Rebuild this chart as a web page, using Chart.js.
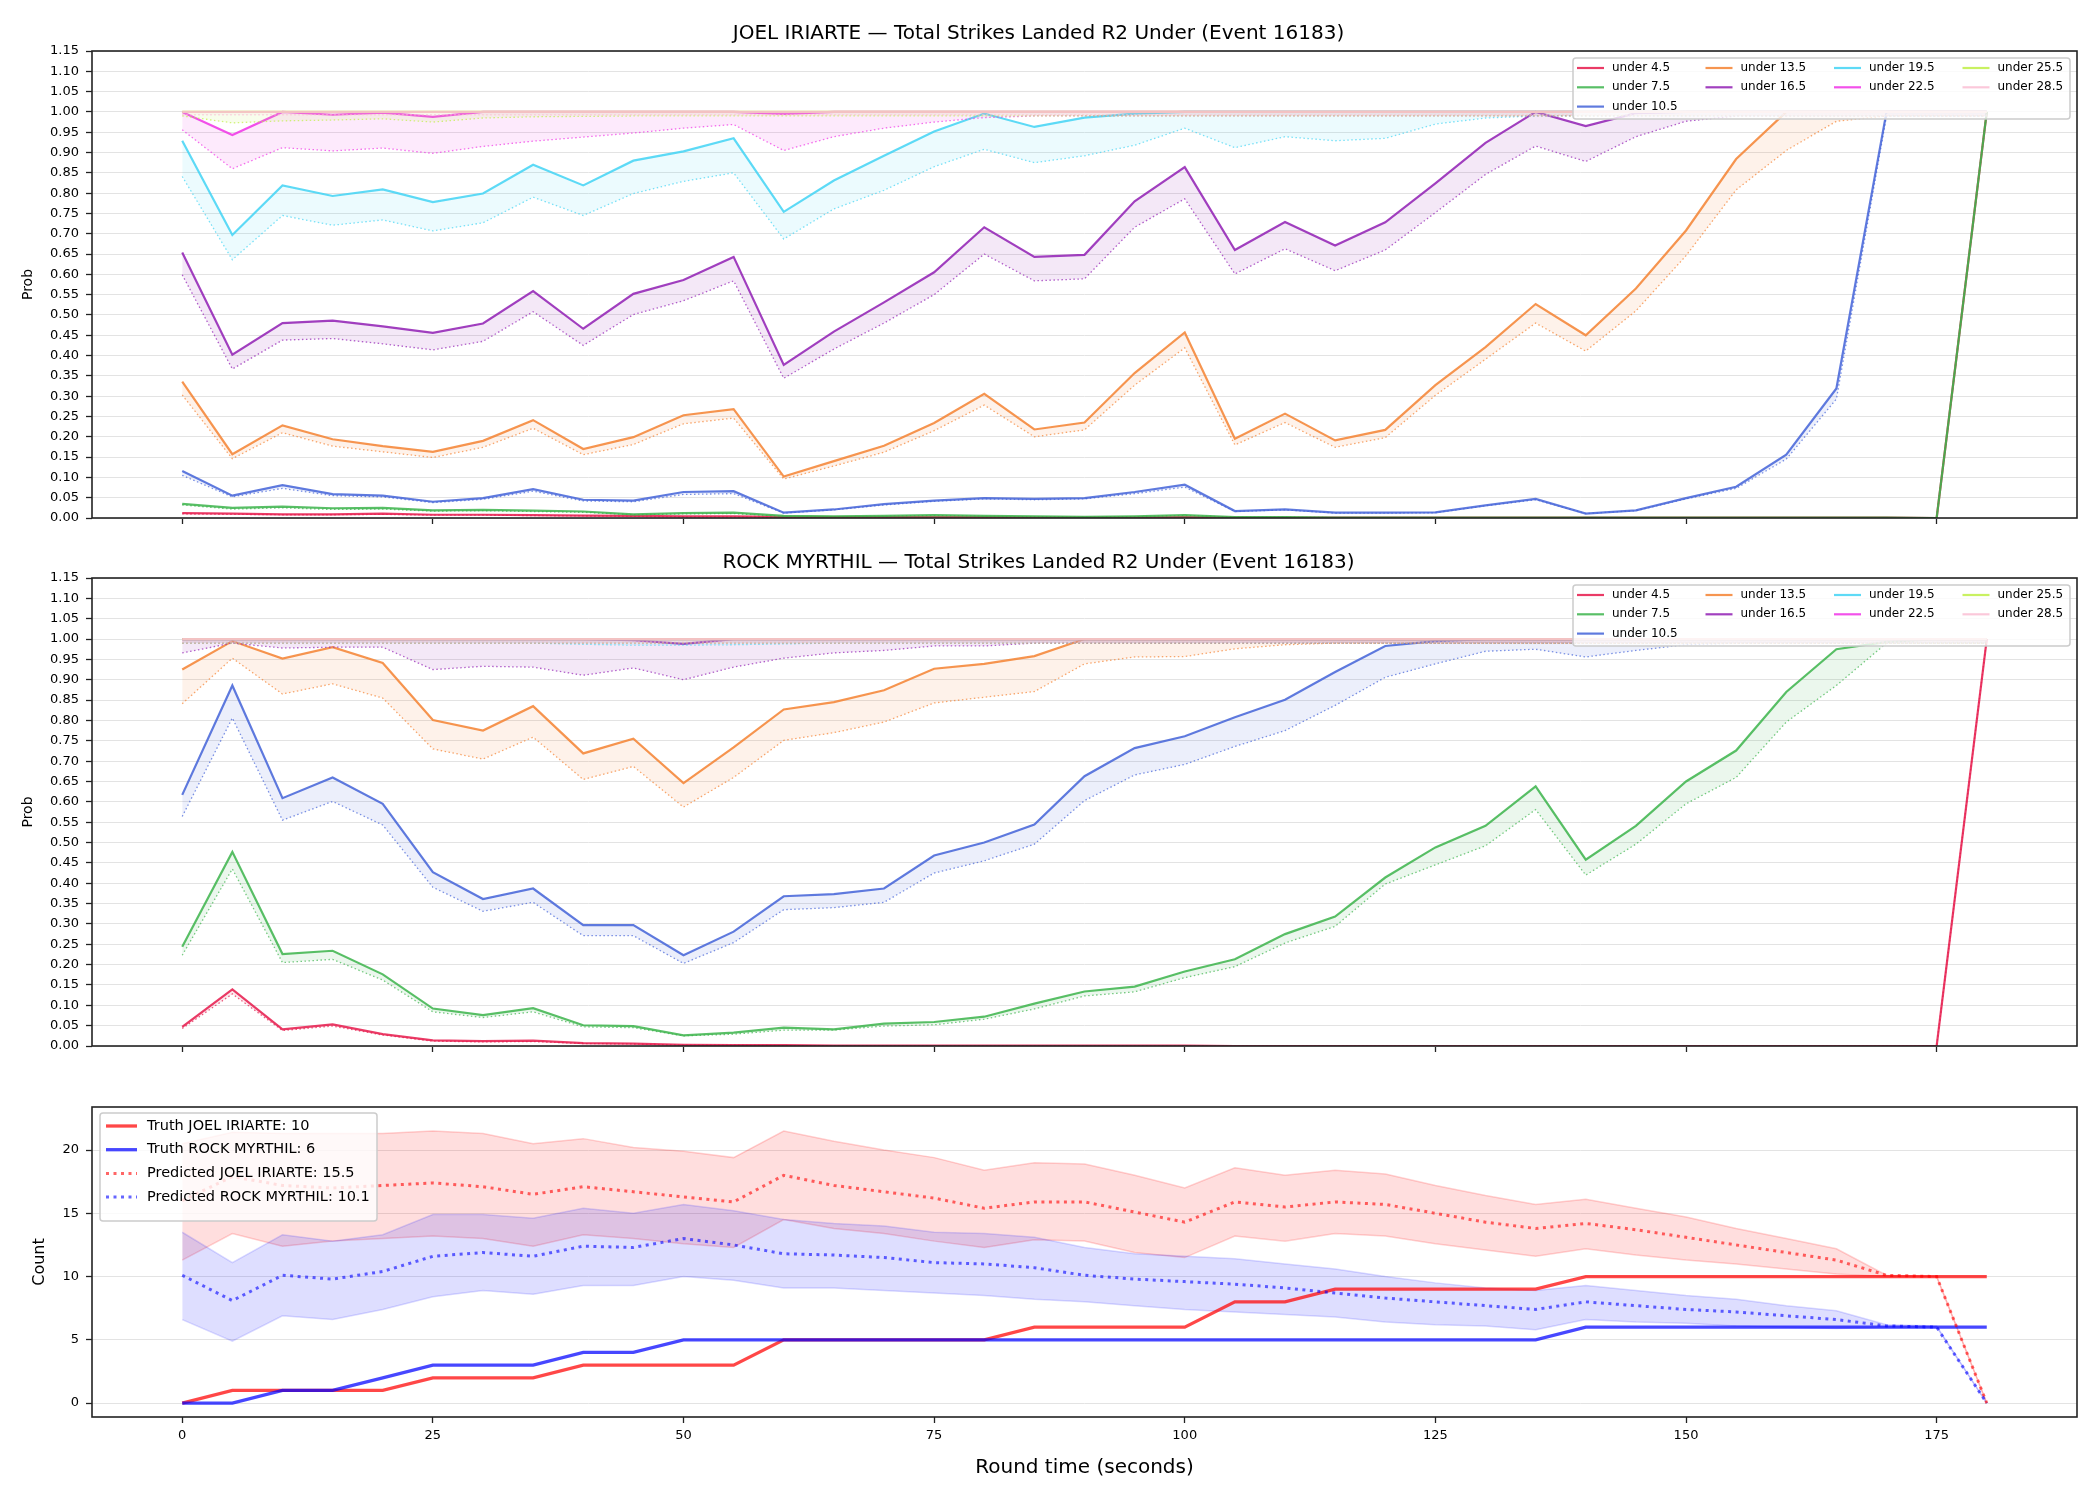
<!DOCTYPE html>
<html>
<head>
<meta charset="utf-8">
<script src="https://cdn.jsdelivr.net/npm/chart.js@4.4.1/dist/chart.umd.min.js"></script>
<style>
  body { margin: 0; background: #fff; width: 2100px; height: 1500px; overflow: hidden; }
  canvas { position: absolute; left: 0; }
</style>
</head>
<body>
<canvas id="joelChart" style="top:0px" width="2100" height="545"></canvas>
<canvas id="rockChart" style="top:545px" width="2100" height="528"></canvas>
<canvas id="countChart" style="top:1073px" width="2100" height="427"></canvas>
<script>
// round time (seconds)
const times = [0,5,10,15,20,25,30,35,40,45,50,
  55,60,65,70,75,80,85,90,95,100,105,110,115,120,
  125,130,135,140,145,150,155,160,165,170,175,180];

const thresholds = ["4.5","7.5","10.5","13.5","16.5","19.5","22.5","25.5","28.5"];
const lineColors = ["#e6194b","#3cb44b","#4363d8","#f58231","#911eb4","#42d4f4","#f032e6","#bfef45","#fabed4"];

const xTicks = [0,25,50,75,100,125,150,175];
const probTicks = [0,0.05,0.1,0.15,0.2,0.25,0.3,0.35,0.4,0.45,0.5,0.55,0.6,0.65,0.7,0.75,0.8,0.85,0.9,0.95,1,1.05,1.1,1.15];
const countTicks = [0,5,10,15,20];

// JOEL IRIARTE: solid = market, dotted = model
const joel45 = [0.012,0.011,0.009,0.009,0.011,0.008,0.008,0.007,0.006,0.005,0.004,
  0.004,0.003,0.002,0.002,0.002,0.002,0.001,0.001,0.001,0.002,0.001,0.001,0.001,0.001,
  0.001,0.001,0.001,0.001,0.001,0.001,0.001,0.001,0.001,0.001,0,1];
const joel45Pred = [0.010,0.009,0.008,0.008,0.009,0.007,0.007,0.006,0.005,0.004,0.003,
  0.003,0.002,0.002,0.002,0.001,0.001,0.001,0.001,0.001,0.001,0.001,0.001,0.001,0.001,
  0.001,0.001,0.001,0.001,0.001,0.001,0.001,0.001,0.001,0.001,0,1];
const joel75 = [0.035,0.025,0.028,0.024,0.025,0.019,0.020,0.018,0.016,0.009,0.012,
  0.013,0.005,0.004,0.005,0.007,0.005,0.004,0.003,0.004,0.007,0.002,0.002,0.001,0.001,
  0.001,0.001,0.001,0.001,0.001,0.001,0.001,0.001,0.001,0.001,0,1];
const joel75Pred = [0.032,0.022,0.025,0.021,0.022,0.017,0.018,0.016,0.014,0.008,0.010,
  0.011,0.004,0.003,0.004,0.006,0.004,0.003,0.002,0.003,0.006,0.002,0.002,0.001,0.001,
  0.001,0.001,0.001,0.001,0.001,0.001,0.001,0.001,0.001,0.001,0,1];
const joel105 = [0.116,0.055,0.081,0.059,0.055,0.040,0.049,0.071,0.045,0.043,0.064,
  0.066,0.013,0.021,0.034,0.043,0.049,0.047,0.049,0.064,0.082,0.017,0.021,0.013,0.013,
  0.014,0.031,0.047,0.011,0.019,0.049,0.077,0.156,0.319,1,1,1];
const joel105Pred = [0.105,0.052,0.073,0.055,0.052,0.038,0.046,0.066,0.042,0.040,0.058,
  0.060,0.012,0.020,0.032,0.041,0.047,0.045,0.047,0.060,0.076,0.016,0.020,0.012,0.012,
  0.013,0.030,0.045,0.011,0.018,0.047,0.073,0.145,0.293,0.990,0.990,0.990];
const joel135 = [0.336,0.157,0.228,0.194,0.177,0.163,0.190,0.241,0.170,0.199,0.253,
  0.268,0.102,0.140,0.178,0.234,0.306,0.218,0.235,0.357,0.457,0.195,0.257,0.191,0.217,
  0.327,0.421,0.527,0.450,0.565,0.708,0.884,1,1,1,1,1];
const joel135Pred = [0.303,0.146,0.210,0.177,0.163,0.149,0.174,0.221,0.156,0.181,0.232,
  0.246,0.096,0.128,0.162,0.215,0.278,0.200,0.217,0.327,0.419,0.180,0.235,0.174,0.198,
  0.302,0.391,0.480,0.411,0.510,0.646,0.808,0.905,0.977,0.990,0.990,0.990];
const joel165 = [0.654,0.402,0.480,0.486,0.472,0.456,0.479,0.559,0.466,0.552,0.586,
  0.643,0.377,0.459,0.531,0.605,0.716,0.643,0.648,0.780,0.864,0.660,0.729,0.671,0.728,
  0.824,0.924,1,0.965,0.997,1,1,1,1,1,1,1];
const joel165Pred = [0.599,0.367,0.438,0.442,0.429,0.414,0.435,0.508,0.425,0.501,0.535,
  0.584,0.344,0.416,0.480,0.550,0.650,0.584,0.589,0.716,0.786,0.601,0.663,0.609,0.660,
  0.752,0.846,0.916,0.878,0.939,0.977,0.990,0.990,0.990,0.990,0.990,0.990];
const joel195 = [0.929,0.697,0.819,0.793,0.809,0.778,0.799,0.870,0.819,0.880,0.903,
  0.935,0.754,0.831,0.892,0.952,0.996,0.963,0.986,0.996,1,1,1,1,1,
  1,1,1,1,1,1,1,1,1,1,1,1];
const joel195Pred = [0.841,0.636,0.745,0.721,0.734,0.707,0.727,0.790,0.745,0.799,0.829,
  0.850,0.687,0.761,0.807,0.865,0.908,0.875,0.892,0.918,0.960,0.912,0.939,0.929,0.935,
  0.970,0.985,0.990,0.990,0.990,0.990,0.990,0.990,0.990,0.990,0.990,0.990];
const joel225 = [1,0.943,1,0.993,0.998,0.988,1,1,1,1,1,
  1,0.995,1,1,1,1,1,1,1,1,1,1,1,1,
  1,1,1,1,1,1,1,1,1,1,1,1];
const joel225Pred = [0.956,0.860,0.912,0.904,0.911,0.898,0.915,0.928,0.938,0.948,0.960,
  0.969,0.905,0.939,0.960,0.975,0.986,0.990,0.990,0.990,0.990,0.990,0.990,0.990,0.990,
  0.990,0.990,0.990,0.990,0.990,0.990,0.990,0.990,0.990,0.990,0.990,0.990];
const joel255 = [1,1,1,1,1,1,1,1,1,1,1,
  1,1,1,1,1,1,1,1,1,1,1,1,1,1,
  1,1,1,1,1,1,1,1,1,1,1,1];
const joel255Pred = [0.990,0.973,0.978,0.980,0.983,0.975,0.985,0.988,0.989,0.990,0.990,
  0.990,0.990,0.990,0.990,0.990,0.990,0.990,0.990,0.990,0.990,0.990,0.990,0.990,0.990,
  0.990,0.990,0.990,0.990,0.990,0.990,0.990,0.990,0.990,0.990,0.990,0.990];
const joel285 = [1,1,1,1,1,1,1,1,1,1,1,
  1,1,1,1,1,1,1,1,1,1,1,1,1,1,
  1,1,1,1,1,1,1,1,1,1,1,1];
const joel285Pred = [0.993,0.993,0.993,0.993,0.993,0.993,0.993,0.993,0.993,0.993,0.993,
  0.993,0.993,0.993,0.993,0.993,0.993,0.993,0.993,0.993,0.993,0.993,0.993,0.993,0.993,
  0.993,0.993,0.993,0.993,0.993,0.993,0.993,0.993,0.993,0.993,0.993,0.993];

// ROCK MYRTHIL
const rock45 = [0.047,0.139,0.041,0.053,0.029,0.014,0.012,0.013,0.007,0.006,0.003,
  0.002,0.002,0.001,0.001,0.001,0.001,0.001,0.001,0.001,0.001,0,0,0,0,
  0,0,0,0,0,0,0,0,0,0,0,1];
const rock45Pred = [0.043,0.128,0.038,0.049,0.027,0.012,0.010,0.011,0.006,0.005,0.002,
  0.002,0.001,0.001,0.001,0.001,0.001,0.001,0.001,0.001,0.001,0,0,0,0,
  0,0,0,0,0,0,0,0,0,0,0,1];
const rock75 = [0.244,0.477,0.226,0.234,0.176,0.092,0.076,0.093,0.051,0.049,0.026,
  0.033,0.045,0.041,0.055,0.059,0.072,0.104,0.134,0.146,0.183,0.213,0.275,0.318,0.414,
  0.488,0.541,0.638,0.458,0.541,0.650,0.726,0.870,0.975,0.993,1,1];
const rock75Pred = [0.223,0.435,0.205,0.213,0.162,0.084,0.070,0.084,0.047,0.045,0.025,
  0.029,0.039,0.039,0.049,0.052,0.066,0.091,0.123,0.133,0.168,0.195,0.253,0.294,0.398,
  0.445,0.492,0.581,0.420,0.496,0.595,0.660,0.796,0.886,0.990,0.990,0.990];
const rock105 = [0.617,0.886,0.609,0.660,0.595,0.427,0.361,0.387,0.297,0.297,0.223,
  0.281,0.368,0.373,0.387,0.468,0.500,0.544,0.663,0.732,0.761,0.808,0.851,0.919,0.983,
  0.995,1,1,1,1,1,1,1,1,1,1,1];
const rock105Pred = [0.564,0.806,0.555,0.601,0.543,0.390,0.331,0.353,0.271,0.271,0.203,
  0.254,0.335,0.340,0.353,0.425,0.455,0.496,0.603,0.666,0.692,0.736,0.775,0.837,0.906,
  0.939,0.970,0.975,0.956,0.972,0.986,0.990,0.990,0.990,0.990,0.990,0.990];
const rock135 = [0.925,0.995,0.952,0.980,0.941,0.801,0.775,0.835,0.719,0.755,0.646,
  0.734,0.827,0.845,0.874,0.927,0.939,0.958,1,1,1,1,1,1,1,
  1,1,1,1,1,1,1,1,1,1,1,1];
const rock135Pred = [0.841,0.953,0.865,0.890,0.855,0.730,0.705,0.759,0.655,0.687,0.587,
  0.660,0.751,0.770,0.796,0.843,0.857,0.871,0.939,0.956,0.957,0.976,0.986,0.990,0.990,
  0.990,0.990,0.990,0.990,0.990,0.990,0.990,0.990,0.990,0.990,0.990,0.990];
const rock165 = [1,1,1,1,1,1,1,1,1,0.997,0.988,
  1,1,1,1,1,1,1,1,1,1,1,1,1,1,
  1,1,1,1,1,1,1,1,1,1,1,1];
const rock165Pred = [0.966,0.990,0.978,0.980,0.980,0.925,0.933,0.931,0.911,0.929,0.900,
  0.931,0.953,0.966,0.972,0.983,0.983,0.990,0.990,0.990,0.990,0.990,0.990,0.990,0.990,
  0.990,0.990,0.990,0.990,0.990,0.990,0.990,0.990,0.990,0.990,0.990,0.990];
const rock195 = [1,1,1,1,1,1,1,1,1,1,1,
  1,1,1,1,1,1,1,1,1,1,1,1,1,1,
  1,1,1,1,1,1,1,1,1,1,1,1];
const rock195Pred = [0.990,0.990,0.990,0.990,0.990,0.990,0.990,0.990,0.987,0.985,0.985,
  0.986,0.988,0.990,0.990,0.990,0.990,0.990,0.990,0.990,0.990,0.990,0.990,0.990,0.990,
  0.990,0.990,0.990,0.990,0.990,0.990,0.990,0.990,0.990,0.990,0.990,0.990];
const rock225 = [1,1,1,1,1,1,1,1,1,1,1,
  1,1,1,1,1,1,1,1,1,1,1,1,1,1,
  1,1,1,1,1,1,1,1,1,1,1,1];
const rock225Pred = [0.990,0.990,0.990,0.990,0.990,0.990,0.990,0.990,0.990,0.990,0.990,
  0.990,0.990,0.990,0.990,0.990,0.990,0.990,0.990,0.990,0.990,0.990,0.990,0.990,0.990,
  0.990,0.990,0.990,0.990,0.990,0.990,0.990,0.990,0.990,0.990,0.990,0.990];
const rock255 = [1,1,1,1,1,1,1,1,1,1,1,
  1,1,1,1,1,1,1,1,1,1,1,1,1,1,
  1,1,1,1,1,1,1,1,1,1,1,1];
const rock255Pred = [0.990,0.990,0.990,0.990,0.990,0.990,0.990,0.990,0.990,0.990,0.990,
  0.990,0.990,0.990,0.990,0.990,0.990,0.990,0.990,0.990,0.990,0.990,0.990,0.990,0.990,
  0.990,0.990,0.990,0.990,0.990,0.990,0.990,0.990,0.990,0.990,0.990,0.990];
const rock285 = [1,1,1,1,1,1,1,1,1,1,1,
  1,1,1,1,1,1,1,1,1,1,1,1,1,1,
  1,1,1,1,1,1,1,1,1,1,1,1];
const rock285Pred = [0.993,0.993,0.993,0.993,0.993,0.993,0.993,0.993,0.993,0.993,0.993,
  0.993,0.993,0.993,0.993,0.993,0.993,0.993,0.993,0.993,0.993,0.993,0.993,0.993,0.993,
  0.993,0.993,0.993,0.993,0.993,0.993,0.993,0.993,0.993,0.993,0.993,0.993];

// counts
const truthJoel = [0,1,1,1,1,2,2,2,3,3,3,
  3,5,5,5,5,5,6,6,6,6,8,8,9,9,
  9,9,9,10,10,10,10,10,10,10,10,10];
const truthRock = [0,0,1,1,2,3,3,3,4,4,5,
  5,5,5,5,5,5,5,5,5,5,5,5,5,5,
  5,5,5,6,6,6,6,6,6,6,6,6];
const predJoel = [16.0,17.9,17.2,17.0,17.2,17.4,17.1,16.5,17.1,16.7,16.3,
  15.9,18.0,17.2,16.7,16.2,15.4,15.9,15.9,15.1,14.3,15.9,15.5,15.9,15.7,
  15.0,14.3,13.8,14.2,13.7,13.1,12.5,11.9,11.3,10.1,10.0,0];
const joelUpper = [20.5,21.4,21.3,21.3,21.3,21.5,21.3,20.5,20.9,20.2,19.9,
  19.4,21.5,20.7,20.0,19.4,18.4,19.0,18.9,18.0,17.0,18.6,18.0,18.4,18.1,
  17.2,16.4,15.7,16.1,15.4,14.7,13.8,13.0,12.2,10.1,10.0,0];
const joelLower = [11.3,13.4,12.4,12.8,13.0,13.2,13.0,12.4,13.3,13.0,12.6,
  12.3,14.5,13.8,13.4,12.8,12.3,12.9,12.8,11.9,11.5,13.2,12.8,13.4,13.2,
  12.6,12.1,11.6,12.2,11.7,11.3,11.0,10.6,10.2,10.0,10.0,0];
const predRock = [10.1,8.1,10.1,9.8,10.4,11.6,11.9,11.6,12.4,12.3,13.0,
  12.5,11.8,11.7,11.5,11.1,11.0,10.7,10.1,9.8,9.6,9.4,9.1,8.7,8.3,
  8.0,7.7,7.4,8.0,7.7,7.4,7.2,6.9,6.6,6.1,6.0,0];
const rockUpper = [13.5,11.1,13.3,12.8,13.3,14.9,14.9,14.6,15.4,15.0,15.7,
  15.2,14.5,14.2,14.0,13.5,13.4,13.1,12.3,11.8,11.6,11.4,11.0,10.6,10.0,
  9.5,9.1,8.9,9.3,8.9,8.5,8.2,7.7,7.3,6.2,6.1,0];
const rockLower = [6.6,4.9,6.9,6.6,7.4,8.4,8.9,8.6,9.3,9.3,10.0,
  9.7,9.1,9.1,8.9,8.7,8.5,8.2,8.0,7.7,7.4,7.2,7.0,6.8,6.4,
  6.2,6.1,5.8,6.6,6.4,6.3,6.1,6.0,5.9,6.0,6.0,0];

const joelSolid = [joel45, joel75, joel105, joel135, joel165, joel195, joel225, joel255, joel285];
const joelPred = [joel45Pred, joel75Pred, joel105Pred, joel135Pred, joel165Pred, joel195Pred, joel225Pred, joel255Pred, joel285Pred];
const rockSolid = [rock45, rock75, rock105, rock135, rock165, rock195, rock225, rock255, rock285];
const rockPred = [rock45Pred, rock75Pred, rock105Pred, rock135Pred, rock165Pred, rock195Pred, rock225Pred, rock255Pred, rock285Pred];

Chart.defaults.font.family = "'DejaVu Sans', sans-serif";
Chart.defaults.color = "#000";
Chart.defaults.animation = false;

function rgba(hex, a) {
    const n = parseInt(hex.slice(1), 16);
    return `rgba(${(n >> 16) & 255},${(n >> 8) & 255},${n & 255},${a})`;
}

function pts(values) {
    return times.map((t, i) => ({ x: t, y: values[i] }));
}

// black box round the plot area, like matplotlib spines
const framePlugin = {
    id: "frame",
    afterDraw(chart) {
        const a = chart.chartArea, ctx = chart.ctx;
        ctx.save();
        ctx.strokeStyle = "#222";
        ctx.lineWidth = 1.6;
        ctx.strokeRect(a.left, a.top, a.right - a.left, a.bottom - a.top);
        ctx.restore();
    }
};

// legend inside the plot, filled column by column
const boxLegend = {
    id: "boxLegend",
    afterDraw(chart, args, o) {
        const items = chart.data.datasets.filter(d => d.label);
        const a = chart.chartArea, ctx = chart.ctx;
        const x0 = o.side === "right" ? a.right - o.inset - o.width : a.left + o.inset;
        const y0 = a.top + o.insetTop;
        ctx.save();
        ctx.fillStyle = "rgba(255,255,255,0.8)";
        ctx.strokeStyle = "#cccccc";
        ctx.lineWidth = 1.5;
        ctx.beginPath();
        ctx.roundRect(x0, y0, o.width, o.height, 3);
        ctx.fill();
        ctx.stroke();
        const base = Math.floor(items.length / o.ncol), extra = items.length % o.ncol;
        let k = 0;
        for (let c = 0; c < o.ncol; c++) {
            const n = base + (c < extra ? 1 : 0);
            for (let r = 0; r < n; r++, k++) {
                const d = items[k];
                const hx = x0 + o.padLeft + c * o.colWidth;
                const hy = y0 + o.firstRow + r * o.rowHeight;
                ctx.beginPath();
                ctx.setLineDash(d.borderDash || []);
                ctx.strokeStyle = d.borderColor;
                ctx.lineWidth = d.borderWidth;
                ctx.moveTo(hx, hy);
                ctx.lineTo(hx + o.handle, hy);
                ctx.stroke();
                ctx.setLineDash([]);
                ctx.fillStyle = "#000";
                ctx.font = o.fontSize + "px 'DejaVu Sans'";
                ctx.textBaseline = "middle";
                ctx.textAlign = "left";
                ctx.fillText(d.label, hx + o.handle + o.gap, hy);
            }
        }
        ctx.restore();
    }
};

function xAxis(showLabels, height) {
    return {
        type: "linear", min: -9, max: 189,
        afterBuildTicks: s => { s.ticks = xTicks.map(v => ({ value: v })); },
        afterFit: s => { s.height = height; },
        grid: { drawOnChartArea: false, drawTicks: true, tickLength: 6, tickColor: "#222", tickWidth: 1.3 },
        border: { display: false },
        ticks: { display: showLabels, padding: 5, font: { size: 13 }, maxRotation: 0, autoSkip: false },
        title: { display: showLabels, text: "Round time (seconds)", font: { size: 20 }, padding: { top: 0, bottom: 20 } }
    };
}

function yAxis(min, max, tickList, fmt, title, titleSize, titlePad) {
    return {
        min: min, max: max,
        afterBuildTicks: s => { s.ticks = tickList.map(v => ({ value: v })); },
        afterFit: s => { s.width = 92; },
        grid: { color: "#e3e3e3", lineWidth: 1, tickLength: 6, tickColor: "#222", tickWidth: 1.3 },
        border: { display: false },
        ticks: { callback: fmt, font: { size: 13 }, padding: 7, autoSkip: false },
        title: { display: true, text: title, font: { size: titleSize }, padding: { top: titlePad } }
    };
}

function probDatasets(solid, pred) {
    const out = [];
    thresholds.forEach((th, i) => {
        out.push({
            label: "under " + th, data: pts(solid[i]),
            borderColor: rgba(lineColors[i], 0.85), borderWidth: 2.2,
            fill: "+1", backgroundColor: rgba(lineColors[i], 0.1), order: -2 * i
        });
        out.push({
            label: "", data: pts(pred[i]),
            borderColor: rgba(lineColors[i], 0.7), borderWidth: 1.3, borderDash: [1.5, 2.5],
            fill: false, order: -2 * i - 1
        });
    });
    return out;
}

const probLegend = {
    side: "right", inset: 7, insetTop: 7, width: 497, height: 61, ncol: 4,
    padLeft: 4, colWidth: 128.5, firstRow: 10, rowHeight: 19.3, handle: 27, gap: 8, fontSize: 12
};

function probChart(id, title, solid, pred, titlePad) {
    new Chart(document.getElementById(id), {
        type: "line",
        data: { datasets: probDatasets(solid, pred) },
        options: {
            responsive: false,
            layout: { padding: { left: 0, right: 23, top: 0, bottom: 0 } },
            elements: { point: { radius: 0 }, line: { tension: 0 } },
            scales: {
                x: xAxis(false, 27),
                y: yAxis(0, 1.15, probTicks, v => v.toFixed(2), "Prob", 14, 19.6)
            },
            plugins: {
                legend: { display: false },
                tooltip: { enabled: false },
                title: { display: true, text: title, font: { size: 20, weight: "normal" }, padding: titlePad },
                boxLegend: probLegend
            }
        },
        plugins: [framePlugin, boxLegend]
    });
}

probChart("joelChart", "JOEL IRIARTE — Total Strikes Landed R2 Under (Event 16183)",
    joelSolid, joelPred, { top: 22, bottom: 5 });
probChart("rockChart", "ROCK MYRTHIL — Total Strikes Landed R2 Under (Event 16183)",
    rockSolid, rockPred, { top: 6, bottom: 3 });

new Chart(document.getElementById("countChart"), {
    type: "line",
    data: {
        datasets: [
            { label: "", data: pts(joelUpper), borderColor: "rgba(255,0,0,0.18)", borderWidth: 1.5, fill: "+1", backgroundColor: "rgba(255,0,0,0.13)", order: 0 },
            { label: "", data: pts(joelLower), borderColor: "rgba(255,0,0,0.18)", borderWidth: 1.5, fill: false, order: -1 },
            { label: "", data: pts(rockUpper), borderColor: "rgba(0,0,255,0.15)", borderWidth: 1.5, fill: "+1", backgroundColor: "rgba(0,0,255,0.13)", order: -2 },
            { label: "", data: pts(rockLower), borderColor: "rgba(0,0,255,0.15)", borderWidth: 1.5, fill: false, order: -3 },
            { label: "Truth JOEL IRIARTE: 10", data: pts(truthJoel), borderColor: "rgba(255,0,0,0.72)", borderWidth: 3.3, fill: false, order: -4 },
            { label: "Truth ROCK MYRTHIL: 6", data: pts(truthRock), borderColor: "rgba(0,0,255,0.72)", borderWidth: 3.3, fill: false, order: -5 },
            { label: "Predicted JOEL IRIARTE: 15.5", data: pts(predJoel), borderColor: "rgba(255,0,0,0.6)", borderWidth: 3, borderDash: [3, 4.5], fill: false, order: -6 },
            { label: "Predicted ROCK MYRTHIL: 10.1", data: pts(predRock), borderColor: "rgba(0,0,255,0.6)", borderWidth: 3, borderDash: [3, 4.5], fill: false, order: -7 }
        ]
    },
    options: {
        responsive: false,
        layout: { padding: { left: 0, right: 23, top: 34, bottom: 0 } },
        elements: { point: { radius: 0 }, line: { tension: 0 } },
        scales: {
            x: xAxis(true, 83),
            y: yAxis(-1.1, 23.4, countTicks, v => String(v), "Count", 16, 30.4)
        },
        plugins: {
            legend: { display: false },
            tooltip: { enabled: false },
            boxLegend: {
                side: "left", inset: 8, insetTop: 6, width: 277, height: 108, ncol: 1,
                padLeft: 6, colWidth: 0, firstRow: 13, rowHeight: 23.7, handle: 31, gap: 10, fontSize: 14.5
            }
        }
    },
    plugins: [framePlugin, boxLegend]
});
</script>
</body>
</html>
